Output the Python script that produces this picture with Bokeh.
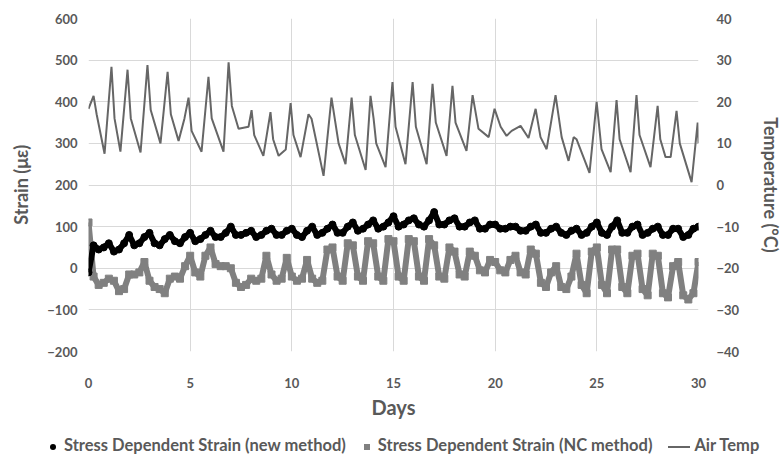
from bokeh.plotting import figure
from bokeh.models import Range1d, LinearAxis, FixedTicker, ColumnDataSource, Div
from bokeh.layouts import column
from bokeh.embed import file_html
from bokeh.resources import INLINE

# ---- data ----
x_ticks = [0, 5, 10, 15, 20, 25, 30]
strain_ticks = [-200, -100, 0, 100, 200, 300, 400, 500, 600]
temp_ticks = [-40, -30, -20, -10, 0, 10, 20, 30, 40]

# Air temperature (deg C): points of the line (day, temp)
temp_days = [0.0, 0.25, 0.4, 0.79, 1.13, 1.28, 1.57, 1.92, 2.08, 2.56, 2.9, 3.06, 3.54, 3.89,
             4.05, 4.43, 4.72, 4.92, 5.07, 5.56, 5.9, 6.06, 6.64, 6.89, 7.05, 7.38, 7.87, 8.02,
             8.15, 8.6, 8.95, 9.08, 9.35, 9.7, 9.94, 10.08, 10.43, 10.82, 10.97, 11.56, 11.95,
             12.3, 12.64, 12.94, 13.1, 13.63, 13.87, 14.02, 14.15, 14.61, 14.95, 15.1, 15.59,
             15.94, 16.1, 16.63, 16.92, 17.08, 17.61, 17.9, 18.05, 18.59, 18.89, 19.18, 19.68,
             19.97, 20.27, 20.56, 20.81, 21.25, 21.64, 21.99, 22.23, 22.53, 22.97, 23.27, 23.61,
             23.86, 24.0, 24.64, 24.99, 25.23, 25.68, 25.97, 26.12, 26.66, 26.95, 27.1, 27.64,
             27.99, 28.12, 28.38, 28.63, 28.92, 29.08, 29.66, 29.96, 30.0]
air_temp = [18.3, 21.4, 17, 7.5, 28.4, 16, 8, 27.7, 16, 7.8, 28.8, 18, 10, 27.2,
            17, 10.6, 16, 21, 13, 8, 26, 16, 8, 29.5, 19, 13.5, 14, 18,
            12, 7, 17.5, 11, 7, 8.5, 19.7, 12, 6.7, 17, 15.9, 2.2, 21,
            10, 5, 21, 12, 3.6, 21.4, 16, 10, 4.3, 24.7, 14, 5,
            24.7, 14, 5, 24.3, 15, 7, 23.8, 15, 8.2, 21.6, 13.5, 11.5,
            18.3, 14, 11.8, 13, 14.2, 11.3, 18.3, 11.5, 8.6, 21.6, 11.5, 5.8,
            11.5, 11, 2.9, 20, 8.6, 3.1, 20.4, 11, 3.1, 21.6, 12, 4.3,
            19, 11, 6.7, 6.7, 17.8, 10, 0.7, 15, 10]

# Strain (micro-strain) every quarter day, day 0 .. day 30
strain_days = [d / 4 for d in range(121)]
strain_new = [
    -10, 55, 45, 50,   60, 40, 45, 60,   80, 55, 60, 75,   85, 60, 55, 70,
    80, 65, 60, 75,    85, 65, 70, 80,   90, 75, 75, 85,   100, 80, 80, 85,
    90, 75, 80, 90,    95, 80, 80, 90,   95, 80, 75, 90,   100, 80, 85, 95,
    105, 85, 85, 100,  110, 90, 95, 105, 115, 95, 100, 110, 125, 100, 105, 115,
    120, 105, 100, 115, 135, 105, 105, 115, 120, 100, 100, 110, 115, 95, 95, 105,
    105, 95, 95, 100,  100, 90, 90, 100, 105, 85, 85, 95,  100, 85, 80, 90,
    95, 80, 85, 100,   110, 85, 80, 100, 115, 85, 85, 100, 105, 80, 85, 95,
    100, 80, 80, 95,   95, 75, 80, 95,   100]
strain_nc = [
    110, -20, -40, -35,  -25, -30, -55, -50,  -15, -15, -10, 15,   -30, -45, -50, -60,
    -25, -20, -25, 5,    30, -10, -20, 30,    50, 10, 5, 5,        0, -35, -45, -40,
    -25, -30, -25, 30,   -15, -30, -25, 25,   -20, -30, -25, 20,   -25, -35, -30, 45,
    50, -20, -30, 60,    55, -20, -30, 65,    60, -20, -30, 70,    65, -20, -30, 70,
    65, -20, -30, 70,    55, -20, -25, 50,    40, -15, -20, 40,    30, -5, -10, 20,
    15, -5, -10, 20,     30, -10, -15, 45,    35, -35, -45, -10,   5, -45, -50, -20,
    35, -40, -60, 40,    50, -40, -60, 45,    45, -45, -60, 30,    35, -50, -65, 35,
    30, -60, -70, 5,     15, -65, -75, -60,   15]

legend_labels = ["Stress Dependent Strain (new method)",
                 "Stress Dependent Strain (NC method)",
                 "Air Temp"]

FONT = "Lato"
TXT = "#595959"
C_NEW = "#000000"
C_NC = "#808080"
C_T = "#666666"

p = figure(frame_width=610, frame_height=333, x_range=Range1d(0, 30), y_range=Range1d(-200, 600),
           output_backend="svg", toolbar_location=None,
           min_border_left=88, min_border_right=60, min_border_top=18, min_border_bottom=0)
p.extra_y_ranges = {"temp": Range1d(-40, 40)}
p.outline_line_color = None
p.background_fill_color = "white"

p.xaxis.ticker = FixedTicker(ticks=x_ticks)
p.yaxis.ticker = FixedTicker(ticks=strain_ticks)
p.xgrid.ticker = FixedTicker(ticks=x_ticks)
p.ygrid.ticker = FixedTicker(ticks=strain_ticks)
p.grid.grid_line_color = "#d9d9d9"
p.grid.grid_line_width = 1

right = LinearAxis(y_range_name="temp", ticker=FixedTicker(ticks=temp_ticks))
p.add_layout(right, "right")

p.xaxis.axis_label = "Days"
p.yaxis.axis_label = "Strain (με)"
right.axis_label = "Temperature (°C)"

for ax in [p.xaxis[0], p.yaxis[0], right]:
    ax.axis_line_color = None
    ax.major_tick_line_color = None
    ax.minor_tick_line_color = None
    ax.major_label_text_font = FONT
    ax.major_label_text_font_style = "bold"
    ax.major_label_text_font_size = "13px"
    ax.major_label_text_color = TXT
    ax.axis_label_text_font = FONT
    ax.axis_label_text_font_style = "bold"
    ax.axis_label_text_font_size = "18px"
    ax.axis_label_text_color = TXT

p.xaxis.axis_label_text_font_size = "20px"
p.xaxis.major_label_standoff = 20
p.xaxis.axis_label_standoff = 4
p.yaxis.major_label_standoff = 5
p.yaxis.axis_label_standoff = 12
right.major_label_standoff = 12
right.axis_label_standoff = 18

src_t = ColumnDataSource(dict(x=temp_days, y=air_temp))
src_s = ColumnDataSource(dict(x=strain_days, new=strain_new, nc=strain_nc))

# NC method (gray squares)
p.line("x", "nc", source=src_s, line_color=C_NC, line_width=6)
p.scatter("x", "nc", source=src_s, marker="square", size=7, fill_color=C_NC, line_color=C_NC)
# new method (black dots)
p.line("x", "new", source=src_s, line_color=C_NEW, line_width=6)
p.scatter("x", "new", source=src_s, marker="circle", size=7, fill_color=C_NEW, line_color=C_NEW)
# air temperature
p.line("x", "y", source=src_t, y_range_name="temp", line_color=C_T, line_width=2)

# legend strip below the chart
sym = "display:inline-block;vertical-align:middle;"
html = (
    f'<div style="font-family:{FONT};font-weight:bold;font-size:16.5px;color:{TXT};'
    f'white-space:nowrap;line-height:20px;padding:9px 0 0 45px;">'
    f'<span style="{sym}width:6px;height:6px;border-radius:50%;background:{C_NEW};margin-right:8px;"></span>'
    f'{legend_labels[0]}'
    f'<span style="{sym}width:6px;height:6px;background:{C_NC};margin:0 8px 0 18px;"></span>'
    f'{legend_labels[1]}'
    f'<span style="{sym}width:22px;height:2px;background:{C_T};margin:0 4px 0 16px;"></span>'
    f'{legend_labels[2]}'
    f'</div>'
)
legend_div = Div(text=html, width=775, height=36)

open("out.html", "w").write(file_html(column(p, legend_div), INLINE))
